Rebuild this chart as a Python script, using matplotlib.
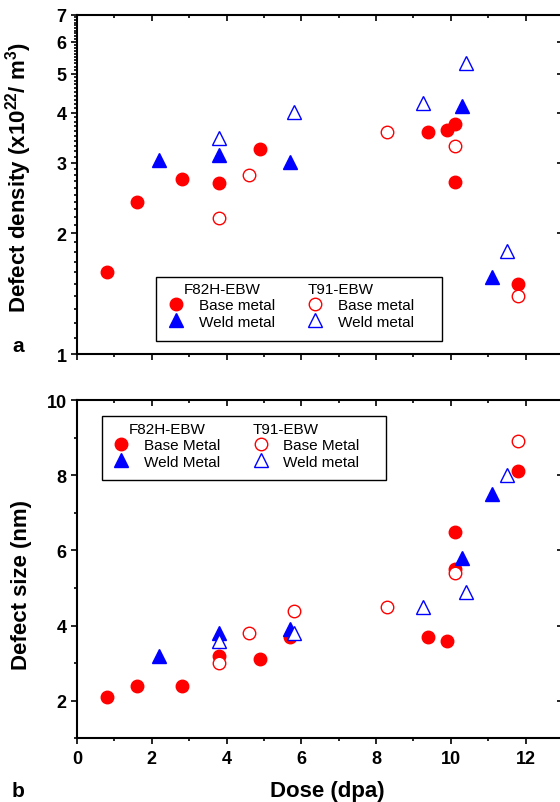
import numpy as np
import matplotlib
matplotlib.use('Agg')
import matplotlib.pyplot as plt
from matplotlib.ticker import MultipleLocator, NullFormatter, FormatStrFormatter
from matplotlib.patches import Rectangle
from matplotlib.lines import Line2D

# Plot Parameters
plt.rcParams['font.family'] = ['Liberation Sans', 'DejaVu Sans']
plt.rcParams['mathtext.fontset'] = 'custom'
plt.rcParams['mathtext.rm'] = 'Liberation Sans'
plt.rcParams['mathtext.bf'] = 'Liberation Sans:bold'
plt.rcParams['mathtext.default'] = 'bf'

# (a) defect density, x10^22 / m^3
dose_f82h_base_a = [0.8, 1.6, 2.8, 3.8, 4.9, 9.4, 9.9, 10.1, 10.1, 11.8]
dens_f82h_base = [1.60, 2.40, 2.73, 2.67, 3.25, 3.58, 3.62, 3.74, 2.69, 1.50]
dose_f82h_weld_a = [2.2, 3.8, 5.7, 10.3, 11.1]
dens_f82h_weld = [3.05, 3.14, 3.02, 4.16, 1.56]
dose_t91_base_a = [3.8, 4.6, 8.3, 10.1, 11.8]
dens_t91_base = [2.19, 2.80, 3.58, 3.30, 1.40]
dose_t91_weld_a = [3.8, 5.8, 9.25, 10.4, 11.5]
dens_t91_weld = [3.45, 4.02, 4.22, 5.32, 1.81]

# (b) defect size, nm
dose_f82h_base_b = [0.8, 1.6, 2.8, 3.8, 4.9, 5.7, 9.4, 9.9, 10.1, 10.1, 11.8]
size_f82h_base = [2.1, 2.4, 2.4, 3.2, 3.1, 3.7, 3.7, 3.6, 6.5, 5.5, 8.1]
dose_f82h_weld_b = [2.2, 3.8, 5.7, 10.3, 11.1]
size_f82h_weld = [3.2, 3.8, 3.9, 5.8, 7.5]
dose_t91_base_b = [3.8, 4.6, 5.8, 8.3, 10.1, 11.8]
size_t91_base = [3.0, 3.8, 4.4, 4.5, 5.4, 8.9]
dose_t91_weld_b = [3.8, 5.8, 9.25, 10.4, 11.5]
size_t91_weld = [3.6, 3.8, 4.5, 4.9, 8.0]

RED = '#ff0000'
BLUE = '#0000ff'
MS_C = 9
MS_T = 10


def draw_series(ax, fb, fw, tb, tw):
    ax.plot(*fb, ls='none', marker='o', ms=MS_C, color=RED, zorder=3)
    ax.plot(*fw, ls='none', marker='^', ms=MS_T, color=BLUE, zorder=3)
    ax.plot(*tb, ls='none', marker='o', ms=MS_C, mfc='white', mec=RED, mew=1.0, zorder=4)
    ax.plot(*tw, ls='none', marker='^', ms=MS_T, mfc='white', mec=BLUE, mew=1.0, zorder=4)


def style_axes(ax):
    for s in ax.spines.values():
        s.set_linewidth(1.5)
    ax.tick_params(which='both', direction='out', width=1.2, top=True, right=True)
    ax.tick_params(which='major', length=4.5, labelsize=13, pad=3)
    ax.tick_params(which='minor', length=2.5)
    ax.tick_params(axis='x', which='major', pad=4)
    # top and right ticks point inward
    for t in ax.xaxis.get_major_ticks() + ax.xaxis.get_minor_ticks():
        t.tick2line.set_marker(3)
    for t in ax.yaxis.get_major_ticks():
        t.tick2line.set_marker(0)
    ax.tick_params(axis='y', which='minor', right=False)
    for lab in ax.get_xticklabels() + ax.get_yticklabels():
        lab.set_fontweight('bold')


def add_legends(ax, frame, pos_a, pos_b, labels_a, labels_b):
    h = [Line2D([], [], ls='none', marker='o', ms=MS_C, color=RED),
         Line2D([], [], ls='none', marker='^', ms=MS_T, color=BLUE),
         Line2D([], [], ls='none', marker='o', ms=MS_C, mfc='white', mec=RED, mew=1.0),
         Line2D([], [], ls='none', marker='^', ms=MS_T, mfc='white', mec=BLUE, mew=1.0)]
    kw = dict(loc='upper left', frameon=False, borderpad=0, borderaxespad=0,
              handlelength=1.0, handletextpad=1.0, labelspacing=0.15,
              fontsize=11, title_fontsize=11)
    la = ax.legend(h[:2], labels_a, title='F82H-EBW', bbox_to_anchor=pos_a,
                   alignment='center', **kw)
    ax.add_artist(la)
    # second one stays as ax.legend_, so it is drawn only once
    ax.legend(h[2:], labels_b, title='T91-EBW', bbox_to_anchor=pos_b,
              alignment='left', **kw)
    x0, y0, x1, y1 = frame
    ax.add_patch(Rectangle((x0, y0), x1 - x0, y1 - y0, transform=ax.transAxes,
                           fill=False, ec='black', lw=1.0, zorder=5))


fig = plt.figure(figsize=(5.6, 8.03), dpi=100)

# panel a
ax1 = fig.add_axes([0.1375, 0.5575, 0.8679, 0.4226])
draw_series(ax1, (dose_f82h_base_a, dens_f82h_base), (dose_f82h_weld_a, dens_f82h_weld),
            (dose_t91_base_a, dens_t91_base), (dose_t91_weld_a, dens_t91_weld))
ax1.set_yscale('log')
ax1.set_xlim(0, 13)
ax1.set_ylim(1, 7)
ax1.xaxis.set_major_locator(MultipleLocator(2))
ax1.xaxis.set_minor_locator(MultipleLocator(1))
ax1.xaxis.set_major_formatter(NullFormatter())
ax1.yaxis.set_major_locator(MultipleLocator(1))
ax1.yaxis.set_minor_locator(MultipleLocator(0.1))
ax1.yaxis.set_major_formatter(FormatStrFormatter('%d'))
ax1.yaxis.set_minor_formatter(NullFormatter())
style_axes(ax1)
ax1.set_ylabel('Defect density (x10$^{22}$/ m$^{3}$)', fontsize=16, fontweight='bold')
ax1.yaxis.set_label_coords(-0.088, 0.5225)
add_legends(ax1, (0.162, 0.039, 0.7515, 0.228), (0.189, 0.213), (0.4737, 0.213),
            ['Base metal', 'Weld metal'], ['Base metal', 'Weld metal'])

# panel b
ax2 = fig.add_axes([0.1375, 0.0793, 0.8679, 0.4213])
draw_series(ax2, (dose_f82h_base_b, size_f82h_base), (dose_f82h_weld_b, size_f82h_weld),
            (dose_t91_base_b, size_t91_base), (dose_t91_weld_b, size_t91_weld))
ax2.set_xlim(0, 13)
ax2.set_ylim(1, 10)
ax2.xaxis.set_major_locator(MultipleLocator(2))
ax2.xaxis.set_minor_locator(MultipleLocator(1))
ax2.yaxis.set_major_locator(MultipleLocator(2))
ax2.yaxis.set_minor_locator(MultipleLocator(1))
ax2.xaxis.set_major_formatter(FormatStrFormatter('%d'))
ax2.yaxis.set_major_formatter(FormatStrFormatter('%d'))
style_axes(ax2)
ax2.set_ylabel('Defect size (nm)', fontsize=16, fontweight='bold')
ax2.yaxis.set_label_coords(-0.092, 0.455)
ax2.set_xlabel('Dose (dpa)', fontsize=16, fontweight='bold')
ax2.xaxis.set_label_coords(0.515, -0.122)
add_legends(ax2, (0.052, 0.764, 0.635, 0.9536), (0.0748, 0.935), (0.362, 0.935),
            ['Base Metal', 'Weld Metal'], ['Base Metal', 'Weld metal'])

fig.text(0.032, 1 - 352 / 803, 'a', fontsize=15, fontweight='bold', ha='center', va='baseline')
fig.text(0.032, 1 - 797 / 803, 'b', fontsize=15, fontweight='bold', ha='center', va='baseline')

fig.savefig('out.png', dpi=100)
